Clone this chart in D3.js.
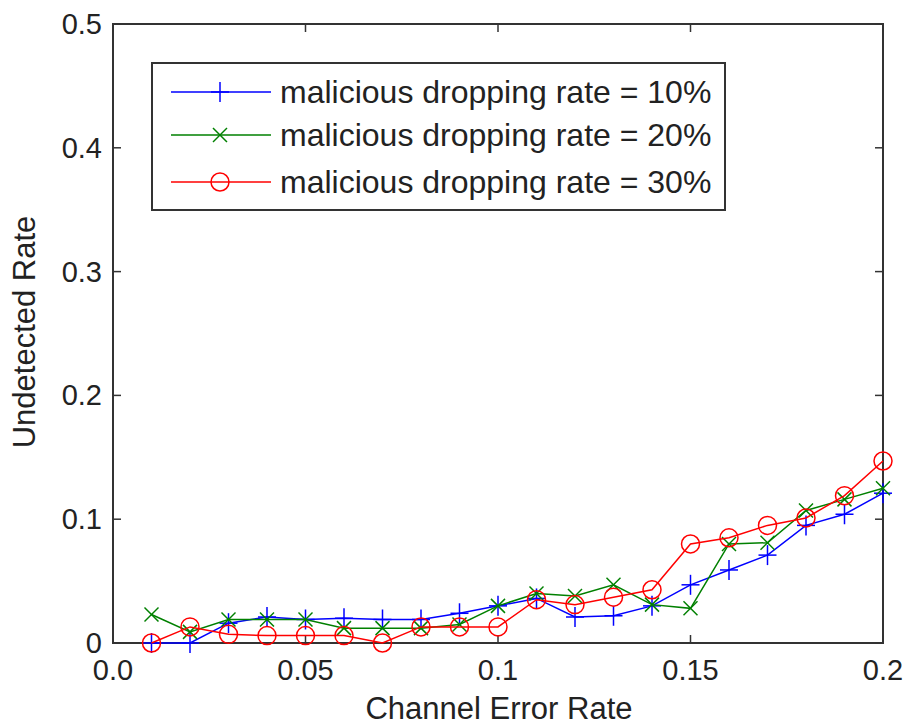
<!DOCTYPE html>
<html>
<head>
<meta charset="utf-8">
<script src="https://d3js.org/d3.v7.min.js"></script>
<style>
  body { margin: 0; background: #fff; }
  text { font-family: "Liberation Sans", Arial, sans-serif; fill: #222; }
</style>
</head>
<body>
<div id="chart"></div>
<script>
// Channel error rate on x axis
var errorRates = [0.01, 0.02, 0.03, 0.04, 0.05, 0.06, 0.07, 0.08, 0.09, 0.10,
                  0.11, 0.12, 0.13, 0.14, 0.15, 0.16, 0.17, 0.18, 0.19, 0.20];

// Undetected rate for each malicious dropping rate
var drop10 = [0.000, 0.000, 0.016, 0.021, 0.019, 0.020, 0.019, 0.019, 0.024, 0.030,
              0.036, 0.021, 0.022, 0.030, 0.047, 0.059, 0.071, 0.095, 0.104, 0.121];
var drop20 = [0.023, 0.009, 0.019, 0.019, 0.019, 0.012, 0.012, 0.012, 0.015, 0.030,
              0.040, 0.038, 0.047, 0.031, 0.028, 0.080, 0.081, 0.107, 0.116, 0.125];
var drop30 = [0.000, 0.013, 0.007, 0.006, 0.006, 0.006, 0.000, 0.013, 0.013, 0.013,
              0.035, 0.031, 0.037, 0.043, 0.080, 0.085, 0.095, 0.101, 0.119, 0.147];

var seriesNames = ["malicious dropping rate = 10%",
                   "malicious dropping rate = 20%",
                   "malicious dropping rate = 30%"];

var xTicks = [0, 0.05, 0.1, 0.15, 0.2];
var xTickLabels = ["0.0", "0.05", "0.1", "0.15", "0.2"];
var yTicks = [0, 0.1, 0.2, 0.3, 0.4, 0.5];
var yTickLabels = ["0", "0.1", "0.2", "0.3", "0.4", "0.5"];

var svgWidth = 909, svgHeight = 725;
var margin = { top: 24, right: 26, bottom: 82, left: 113 };
var width = svgWidth - margin.left - margin.right;
var height = svgHeight - margin.top - margin.bottom;
var fontSize = 29;

var svg = d3.select("#chart").append("svg")
  .attr("width", svgWidth)
  .attr("height", svgHeight);

var g = svg.append("g")
  .attr("transform", "translate(" + margin.left + "," + margin.top + ")");

var x = d3.scaleLinear().domain([0, 0.2]).range([0, width]);
var y = d3.scaleLinear().domain([0, 0.5]).range([height, 0]);

var axisColor = "#333";
var tickLen = 8;

// plot box
g.append("rect")
  .attr("x", 0).attr("y", 0)
  .attr("width", width).attr("height", height)
  .attr("fill", "none")
  .attr("stroke", axisColor)
  .attr("stroke-width", 2);

// inward ticks on all four sides
xTicks.forEach(function (t) {
  g.append("line").attr("x1", x(t)).attr("x2", x(t))
    .attr("y1", height).attr("y2", height - tickLen)
    .attr("stroke", axisColor).attr("stroke-width", 1.5);
  g.append("line").attr("x1", x(t)).attr("x2", x(t))
    .attr("y1", 0).attr("y2", tickLen)
    .attr("stroke", axisColor).attr("stroke-width", 1.5);
});
yTicks.forEach(function (t) {
  g.append("line").attr("x1", 0).attr("x2", tickLen)
    .attr("y1", y(t)).attr("y2", y(t))
    .attr("stroke", axisColor).attr("stroke-width", 1.5);
  g.append("line").attr("x1", width).attr("x2", width - tickLen)
    .attr("y1", y(t)).attr("y2", y(t))
    .attr("stroke", axisColor).attr("stroke-width", 1.5);
});

// tick labels
g.selectAll(".xlab").data(xTicks).enter().append("text")
  .attr("x", function (d) { return x(d); })
  .attr("y", height + 37)
  .attr("text-anchor", "middle")
  .attr("font-size", fontSize)
  .text(function (d, i) { return xTickLabels[i]; });

g.selectAll(".ylab").data(yTicks).enter().append("text")
  .attr("x", -11)
  .attr("y", function (d) { return y(d) + 10; })
  .attr("text-anchor", "end")
  .attr("font-size", fontSize)
  .text(function (d, i) { return yTickLabels[i]; });

// axis titles
svg.append("text")
  .attr("x", 499)
  .attr("y", 719)
  .attr("text-anchor", "middle")
  .attr("font-size", 31)
  .text("Channel Error Rate");

svg.append("text")
  .attr("transform", "translate(35," + 332 + ") rotate(-90)")
  .attr("text-anchor", "middle")
  .attr("font-size", 31)
  .text("Undetected Rate");

// series
var series = [
  { name: seriesNames[0], values: drop10, color: "#0000ff", marker: "plus" },
  { name: seriesNames[1], values: drop20, color: "#008000", marker: "cross" },
  { name: seriesNames[2], values: drop30, color: "#ff0000", marker: "circle" }
];

function drawMarker(sel, type, color) {
  if (type === "plus") {
    sel.append("line").attr("x1", -9).attr("x2", 9).attr("y1", 0).attr("y2", 0)
      .attr("stroke", color).attr("stroke-width", 1.5);
    sel.append("line").attr("x1", 0).attr("x2", 0).attr("y1", -10).attr("y2", 10)
      .attr("stroke", color).attr("stroke-width", 1.5);
  } else if (type === "cross") {
    sel.append("line").attr("x1", -7).attr("x2", 7).attr("y1", -7).attr("y2", 7)
      .attr("stroke", color).attr("stroke-width", 1.5);
    sel.append("line").attr("x1", -7).attr("x2", 7).attr("y1", 7).attr("y2", -7)
      .attr("stroke", color).attr("stroke-width", 1.5);
  } else {
    sel.append("circle").attr("r", 9)
      .attr("fill", "none").attr("stroke", color).attr("stroke-width", 1.5);
  }
}

var line = d3.line()
  .x(function (d, i) { return x(errorRates[i]); })
  .y(function (d) { return y(d); });

series.forEach(function (s) {
  g.append("path")
    .datum(s.values)
    .attr("d", line)
    .attr("fill", "none")
    .attr("stroke", s.color)
    .attr("stroke-width", 1.5);

  g.selectAll(null).data(s.values).enter().append("g")
    .attr("transform", function (d, i) {
      return "translate(" + x(errorRates[i]) + "," + y(d) + ")";
    })
    .each(function () { drawMarker(d3.select(this), s.marker, s.color); });
});

// legend
var legend = svg.append("g").attr("transform", "translate(152,63)");
legend.append("rect")
  .attr("x", 0).attr("y", 0)
  .attr("width", 573).attr("height", 147)
  .attr("fill", "#fff")
  .attr("stroke", axisColor)
  .attr("stroke-width", 2);

var rowY = [29, 72, 119];
series.forEach(function (s, i) {
  var row = legend.append("g").attr("transform", "translate(0," + rowY[i] + ")");
  row.append("line")
    .attr("x1", 19).attr("x2", 119).attr("y1", 0).attr("y2", 0)
    .attr("stroke", s.color).attr("stroke-width", 1.5);
  drawMarker(row.append("g").attr("transform", "translate(68,0)"), s.marker, s.color);
  row.append("text")
    .attr("x", 128).attr("y", 11)
    .attr("font-size", 32)
    .text(s.name);
});
</script>
</body>
</html>
